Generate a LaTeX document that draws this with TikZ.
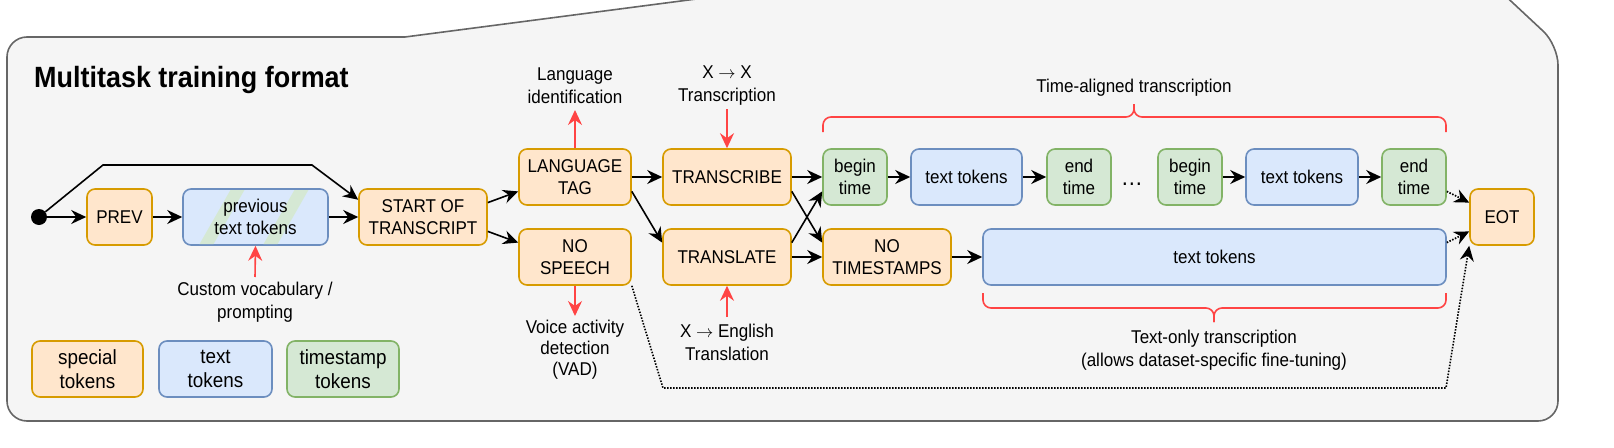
\documentclass[tikz,border=0pt]{standalone}
\usepackage{fontspec}
\setmainfont{Liberation Sans}[FakeStretch=0.92]
\usetikzlibrary{arrows.meta,calc}
\definecolor{orfill}{HTML}{FFE6CC}
\definecolor{ordraw}{HTML}{D79B00}
\definecolor{blfill}{HTML}{DAE8FC}
\definecolor{bldraw}{HTML}{6C8EBF}
\definecolor{grfill}{HTML}{D5E8D4}
\definecolor{grdraw}{HTML}{82B366}
\definecolor{bgfill}{HTML}{F5F5F5}
\definecolor{bgdraw}{HTML}{666666}
\definecolor{redc}{HTML}{FF4444}
\begin{document}
\begin{tikzpicture}[x=1pt,y=-1pt,
  tok/.style={rectangle, rounded corners=8pt, line width=1.6pt, inner sep=0pt, align=center,
    font=\fontsize{18.5}{22}\selectfont},
  special/.style={tok, fill=orfill, draw=ordraw},
  txt/.style={tok, fill=blfill, draw=bldraw},
  stamp/.style={tok, fill=grfill, draw=grdraw},
  legend/.style={font=\fontsize{20.5}{24}\selectfont},
  note/.style={align=center, inner sep=0pt, font=\fontsize{18.5}{23}\selectfont},
  arr/.style={line width=1.6pt, -{Stealth[length=15pt,width=14pt,inset=5pt]}},
  redarr/.style={arr, draw=redc},
  dotarr/.style={arr, dash pattern=on 1.5pt off 1.5pt},
  brace/.style={line width=1.6pt, draw=redc, rounded corners=8pt},
]
\useasboundingbox (0,0) rectangle (1614,447);
% background panel
\begin{scope}
\clip (0,0) rectangle (1614,447);
\draw[line width=1.6pt, draw=bgdraw, fill=bgfill]
  (200,37) -- (405,37) -- (1409,-94) [rounded corners=20pt] -- (1558,45) -- (1558,421) -- (7,421) -- (7,37) -- cycle;
\end{scope}

\node[anchor=base west, inner sep=0pt, font=\bfseries\fontsize{29.3}{30}\selectfont] (title) at (34,87) {Multitask training format};

% row nodes
\node[circle, fill=black, inner sep=0pt, minimum size=16pt] (dot) at (39,217) {};
\node[special, minimum width=65pt, minimum height=56pt] (prev) at (119.5,217) {PREV};
\node[txt, minimum width=145pt, minimum height=56pt] (prevtxt) at (255.5,217) {};
\begin{scope}
\clip[rounded corners=7pt] (184,190) rectangle (327,244);
\fill[grfill] (199,245) -- (213,245) -- (245,189) -- (231,189) -- cycle;
\fill[grfill] (263,245) -- (277,245) -- (309,189) -- (295,189) -- cycle;
\end{scope}
\node[align=center, inner sep=0pt, font=\fontsize{18.5}{22}\selectfont] (prevlbl) at (prevtxt) {previous\\text tokens};
\node[special, minimum width=128pt, minimum height=56pt] (sot) at (423,217) {START OF\\TRANSCRIPT};

\node[special, minimum width=112pt, minimum height=56pt] (lang) at (575,177) {LANGUAGE\\TAG};
\node[special, minimum width=112pt, minimum height=56pt] (nosp) at (575,257) {NO\\SPEECH};
\node[special, minimum width=128pt, minimum height=56pt] (tscr) at (727,177) {TRANSCRIBE};
\node[special, minimum width=128pt, minimum height=56pt] (tsl) at (727,257) {TRANSLATE};

\node[stamp, minimum width=64pt, minimum height=56pt] (bt1) at (855,177) {begin\\time};
\node[txt, minimum width=111pt, minimum height=56pt] (tt1) at (966.5,177) {text tokens};
\node[stamp, minimum width=64pt, minimum height=56pt] (et1) at (1079,177) {end\\time};
\node[anchor=base, inner sep=0pt, font=\fontsize{24}{24}\selectfont] (dots) at (1132,185) {…};
\node[stamp, minimum width=64pt, minimum height=56pt] (bt2) at (1190,177) {begin\\time};
\node[txt, minimum width=112pt, minimum height=56pt] (tt2) at (1302,177) {text tokens};
\node[stamp, minimum width=64pt, minimum height=56pt] (et2) at (1414,177) {end\\time};

\node[special, minimum width=128pt, minimum height=56pt] (nots) at (887,257) {NO\\TIMESTAMPS};
\node[txt, minimum width=463pt, minimum height=56pt] (ltt) at (1214.5,257) {text tokens};
\node[special, minimum width=64pt, minimum height=56pt] (eot) at (1502,217) {EOT};

% legend
\node[special, legend, minimum width=111pt, minimum height=56pt] (lg1) at (87.5,369) {special\\tokens};
\node[txt, legend, minimum width=113pt, minimum height=56pt] (lg2) at (215.5,369) {text\\tokens};
\node[stamp, legend, minimum width=112pt, minimum height=56pt] (lg3) at (343,369) {timestamp\\tokens};

% annotations
\node[note] (lid) at (575,86) {Language\\identification};
\node[note] (xx) at (727,86) {X $\rightarrow$ X\\Transcription};
\node[note] (cv) at (255,302) {Custom vocabulary /\\prompting};
\node[note, font=\fontsize{18.5}{21}\selectfont] (vad) at (575,350) {Voice activity\\detection\\(VAD)};
\node[note] (xe) at (727,342) {X $\rightarrow$ English\\Translation};
\node[note] (tat) at (1134,88) {Time-aligned transcription};
\node[note] (tot) at (1214,350) {Text-only transcription\\(allows dataset-specific fine-tuning)};

\coordinate (lidp) at (575,110);
\coordinate (xxp) at (727,109);
\coordinate (cvp) at (255,277);
\coordinate (vadp) at (575,316);
\coordinate (xep) at (727,317);

\draw[redarr] (lang.north) -- (lidp);
\draw[redarr] (xxp) -- (tscr.north);
\draw[redarr] (cvp) -- (prevtxt.south);
\draw[redarr] (nosp.south) -- (vadp);
\draw[redarr] (xep) -- (tsl.south);

% braces
\draw[brace] (823,132) -- (823,117) -- (1134,117) -- (1134,104);
\draw[brace] (1446,132) -- (1446,117) -- (1134,117) -- (1134,104);
\draw[brace] (983,293) -- (983,308) -- (1214,308) -- (1214,322);
\draw[brace] (1446,293) -- (1446,308) -- (1214,308) -- (1214,322);

% connectors
\coordinate (w1) at (103,165);
\coordinate (w2) at (312,165);
\draw[arr] (dot) -- (prev);
\draw[arr] (prev) -- (prevtxt);
\draw[arr] (prevtxt) -- (sot);
\draw[arr] (dot) -- (w1) -- (w2) -- ($(sot.north west)!0.2!(sot.south west)$);
\draw[arr] ($(sot.north east)!0.25!(sot.south east)$) -- ($(lang.north west)!0.75!(lang.south west)$);
\draw[arr] ($(sot.north east)!0.75!(sot.south east)$) -- ($(nosp.north west)!0.25!(nosp.south west)$);
\draw[arr] (lang) -- (tscr);
\draw[arr] ($(lang.north east)!0.75!(lang.south east)$) -- ($(tsl.north west)!0.25!(tsl.south west)$);
\draw[arr] (tscr) -- (bt1);
\draw[arr] ($(tscr.north east)!0.75!(tscr.south east)$) -- ($(nots.north west)!0.25!(nots.south west)$);
\draw[arr] ($(tsl.north east)!0.25!(tsl.south east)$) -- ($(bt1.north west)!0.75!(bt1.south west)$);
\draw[arr] (tsl) -- (nots);
\draw[arr] (nots) -- (ltt);
\draw[arr] (bt1) -- (tt1);
\draw[arr] (tt1) -- (et1);
\draw[arr] (bt2) -- (tt2);
\draw[arr] (tt2) -- (et2);

\draw[dotarr] ($(et2.north east)!0.75!(et2.south east)$) -- ($(eot.north west)!0.25!(eot.south west)$);
\draw[dotarr] ($(ltt.north east)!0.25!(ltt.south east)$) -- ($(eot.north west)!0.75!(eot.south west)$);
\coordinate (d1) at (663,388);
\coordinate (d2) at (1446,388);
\draw[dotarr] (nosp.south east) -- (d1) -- (d2) -- (eot.south west);
\end{tikzpicture}
\end{document}
